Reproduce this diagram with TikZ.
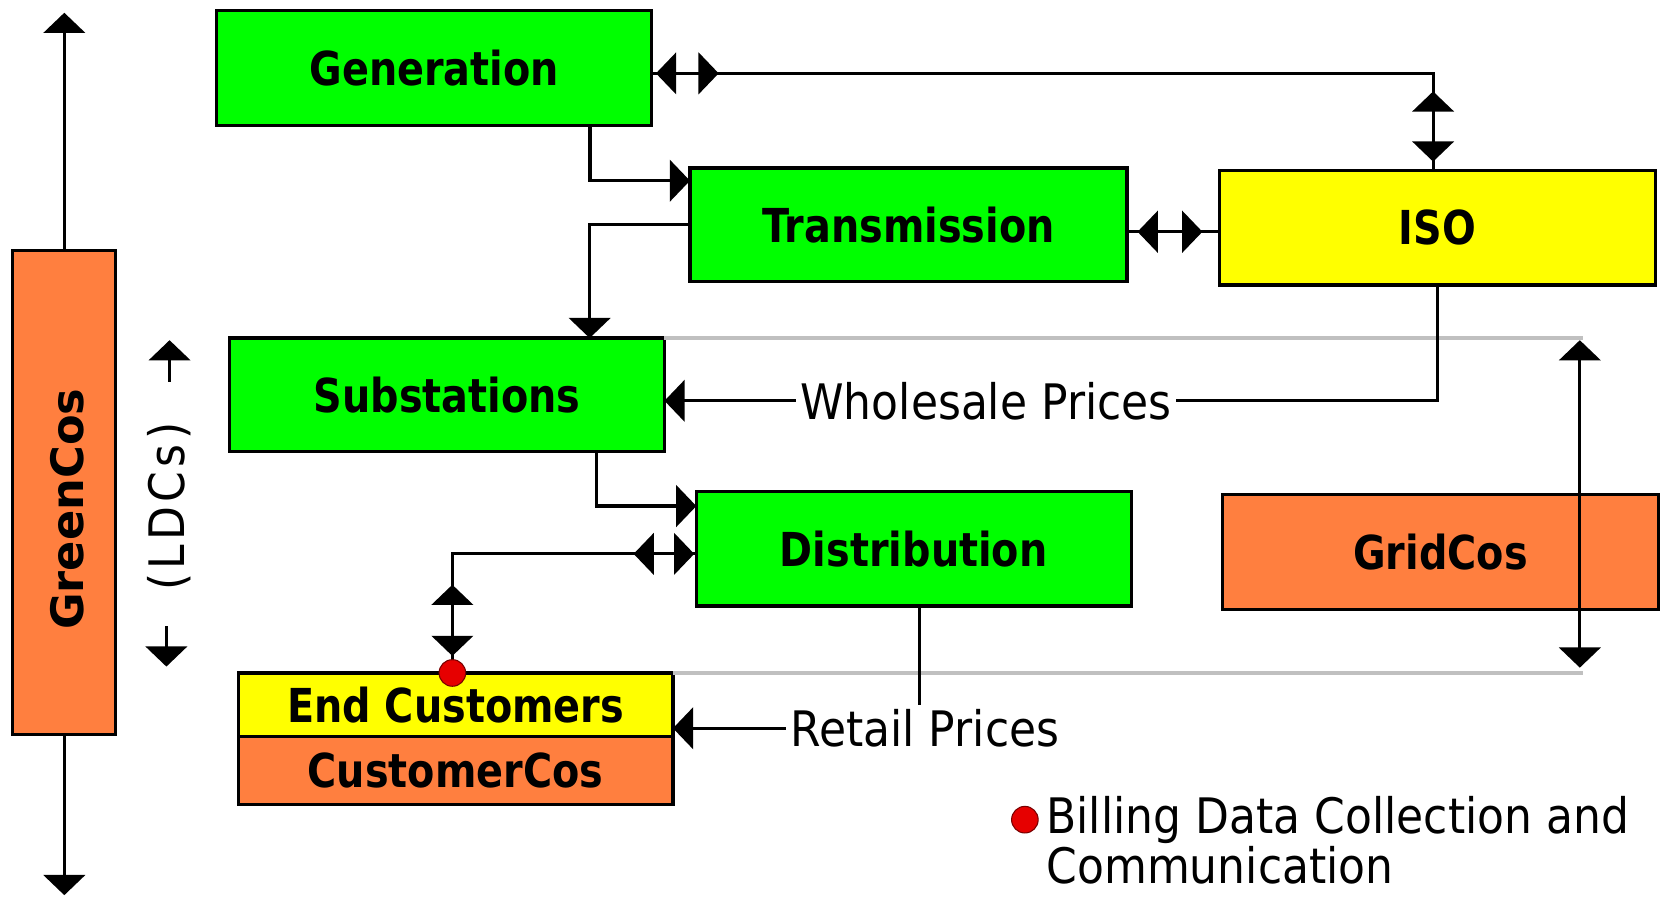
\documentclass[tikz,border=0pt]{standalone}
\usepackage{fontspec}
\usetikzlibrary{arrows.meta,decorations.markings,calc}
\newfontfamily\boxfont[FakeStretch=0.85]{DejaVu Sans}
\newfontfamily\lblfont[FakeStretch=0.9]{DejaVu Sans}
\newfontfamily\plainfont{DejaVu Sans}
\definecolor{bgreen}{RGB}{0,255,0}
\definecolor{byellow}{RGB}{255,255,0}
\definecolor{borange}{RGB}{255,127,63}
\definecolor{lgray}{RGB}{192,192,192}
\definecolor{dotred}{RGB}{230,0,0}
\definecolor{dotedge}{RGB}{120,0,0}
\begin{document}
\begin{tikzpicture}[x=0.5pt,y=-0.5pt,
  >={Triangle[length=9.5pt,width=19.5pt]},
  box/.style={draw=black, line width=1.5pt, inner sep=0pt, outer sep=0pt,
    font=\boxfont\bfseries\fontsize{22}{26}\selectfont},
  conn/.style={line width=1.5pt},
  lbl/.style={fill=white, inner sep=2pt, font=\lblfont\fontsize{23}{27}\selectfont},
  graybar/.style={draw=lgray, line width=1.5pt},
  dot/.style={circle, fill=dotred, draw=dotedge, line width=0.5pt,
    minimum size=12.5pt, inner sep=0pt},
  bimark/.style n args={4}{postaction={decorate}, decoration={markings,
    mark=at position #1 with {\arrowreversed{>}},
    mark=at position #2 with {\arrow{>}},
    mark=at position #3 with {\arrowreversed{>}},
    mark=at position #4 with {\arrow{>}}}},
  bimarktwo/.style 2 args={postaction={decorate}, decoration={markings,
    mark=at position #1 with {\arrowreversed{>}},
    mark=at position #2 with {\arrow{>}}}}
]
\path[use as bounding box, fill=white] (0,0) rectangle (1568,844);

% boxes
\node[box, fill=bgreen, minimum width=204.5pt, minimum height=54pt] (gen) at (408.5,64) {Generation};
\node[box, fill=bgreen, minimum width=205.5pt, minimum height=53.5pt] (trans) at (854.5,211.5) {Transmission};
\node[box, fill=byellow, minimum width=205pt, minimum height=54pt] (iso) at (1352,214) {ISO};
\node[box, fill=bgreen, minimum width=204.5pt, minimum height=53.5pt] (subs) at (420.5,371.5) {Substations};
\node[box, fill=bgreen, minimum width=204.5pt, minimum height=54pt] (dist) at (859.5,516) {Distribution};
\node[box, fill=borange, minimum width=205pt, minimum height=54pt] (grid) at (1355,519) {GridCos};
\node[box, fill=byellow, minimum width=204.5pt, minimum height=30pt] (endc) at (428.5,663) {End Customers};
\node[box, fill=borange, minimum width=204.5pt, minimum height=32pt] (custc) at (428.5,725) {CustomerCos};
\node[box, fill=borange, minimum width=48.5pt, minimum height=227.5pt] (green) at (60.5,463.5) {};
\node[font=\plainfont\bfseries\fontsize{21}{25}\selectfont, rotate=90, inner sep=0pt] (greenlbl) at (63,479) {GreenCos};

% gray LDC range lines
\coordinate (gtopr) at (1489,318);
\coordinate (gbotr) at (1489,633);
\draw[graybar] (subs.north east) -- (gtopr);
\draw[graybar] (endc.north east) -- (gbotr);
\coordinate (la) at (1486,320);
\coordinate (lb) at (1486,628);
\draw[conn,<->] (la) -- (lb);

% connectors
\draw[conn,->] ($(gen.south west)!0.858!(gen.south east)$) |- ([yshift=20.75pt]trans.west);
\draw[conn,->] (trans.west) -| ($(subs.north west)!0.828!(subs.north east)$);
\draw[conn, bimark={2pt}{31.5pt}{-37pt}{-4pt}] ([yshift=-2.5pt]gen.east) -| ([xshift=-2pt]iso.north);
\draw[conn, bimarktwo={5pt}{35.5pt}] ([yshift=-3.25pt]trans.east) -- ([yshift=-2pt]iso.west);
\draw[conn,->] (iso.south) |- ([yshift=-2.75pt]subs.east) node[lbl, pos=0.792] (wsp) {Wholesale Prices};
\draw[conn,->] ($(subs.south west)!0.843!(subs.south east)$) |- ([yshift=20pt]dist.west);
\draw[conn, bimark={1pt}{29.5pt}{-41.5pt}{-8pt}] ([yshift=-2.5pt]dist.west) -| ([xshift=-1.5pt]endc.north);
\draw[conn,->] ([xshift=2.75pt]dist.south) |- ([yshift=-11pt]endc.east) node[lbl, pos=0.5, xshift=2.5pt] (rp) {Retail Prices};
\node[dot] (bdot) at ([xshift=-1.5pt]endc.north) {};

% GreenCos arrows
\coordinate (gt) at (60.5,12);
\coordinate (gb) at (60.5,842);
\draw[conn,->] (green.north) -- (gt);
\draw[conn,->] (green.south) -- (gb);

% LDCs
\node[font=\lblfont\fontsize{23}{27}\selectfont, rotate=90, inner sep=0pt] (ldc) at (159.5,476.5) {(\kern2pt L\kern2pt D\kern2pt C\kern2pt s\kern2pt)};
\coordinate (lu1) at (159.5,359);
\coordinate (lu2) at (159.5,320);
\draw[conn,->] (lu1) -- (lu2);
\coordinate (ld1) at (156.5,589);
\coordinate (ld2) at (156.5,627);
\draw[conn,->] (ld1) -- (ld2);

% legend
\node[dot] (ldot) at (964,771) {};
\node[anchor=north west, align=left, inner sep=0pt, font=\lblfont\fontsize{23}{21.5}\selectfont] (legend) at (984,749) {Billing Data Collection and\\Communication};
\end{tikzpicture}
\end{document}
